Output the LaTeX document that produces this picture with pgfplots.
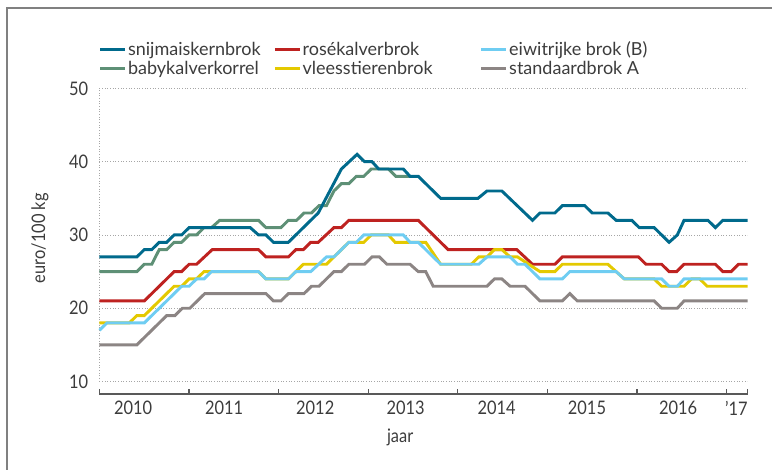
\documentclass[border=0pt]{standalone}
\usepackage{fontspec}
\setmainfont{Lato}[FakeStretch=0.88]
\newfontfamily\legfont{Lato}
\usepackage{pgfplots}
\pgfplotsset{compat=1.18}
\definecolor{cSnij}{HTML}{006A8C}
\definecolor{cRose}{HTML}{BE2220}
\definecolor{cEiwit}{HTML}{6FCDF2}
\definecolor{cBaby}{HTML}{5E9076}
\definecolor{cVlees}{HTML}{E4C900}
\definecolor{cStand}{HTML}{8C8584}
\definecolor{txt}{HTML}{3C3C3C}
\tikzset{
  snij/.style={color=cSnij, line width=2.2pt},
  rose/.style={color=cRose, line width=2.2pt},
  eiwit/.style={color=cEiwit, line width=2.2pt},
  baby/.style={color=cBaby, line width=2.2pt},
  vlees/.style={color=cVlees, line width=2.2pt},
  stand/.style={color=cStand, line width=2.2pt},
}
\begin{document}
\begin{tikzpicture}
\begin{axis}[
  at={(0,0)}, anchor=south west,
  scale only axis, width=486pt, height=229.2pt,
  xmin=0, xmax=86.8, ymin=8.3, ymax=50,
  axis x line*=bottom, axis y line*=left,
  x axis line style={draw=black!65, line width=0.9pt, -},
  y axis line style={draw=none},
  /pgf/number format/assume math mode=true,
  xtick={0,12,24,36,48,60,72,84,86.8}, xticklabels={},
  xtick style={draw=black!65, line width=0.9pt},
  tick align=inside, major tick length=4pt,
  extra x ticks={4.5,16.7,28.9,41.0,53.2,65.3,77.5,85.3},
  extra x tick labels={2010,2011,2012,2013,2014,2015,2016,'17},
  extra x tick style={major tick length=0pt, tick label style={yshift=-2pt}},
  ytick={10,20,30,40,50},
  ytick style={draw=none},
  yticklabel style={xshift=-5pt},
  ymajorgrids,
  grid style={draw=black!35, line width=0.6pt, dash pattern=on 0.6pt off 1.4pt},
  tick label style={font=\fontsize{14}{16}\selectfont, text=txt},
  xlabel={jaar}, ylabel={euro/100 kg},
  label style={font=\fontsize{14}{16}\selectfont, text=txt},
  xlabel style={at={(axis description cs:0.464,-0.141)}, anchor=center},
  ylabel style={at={(axis description cs:-0.0918,0.51)}, anchor=center, rotate=0},
  clip=false,
  legend columns=3,
  legend cell align=left,
  legend image code/.code={\draw[#1] (0pt,0pt) -- (18.75pt,0pt);},
  legend style={draw=none, fill=none, at={(axis description cs:-0.0077,1.168)}, anchor=north west,
    font=\legfont\fontsize{13.5}{15}\selectfont, text=txt, row sep=0pt,
    nodes={inner xsep=1pt, inner ysep=1.2pt}},
]
\draw[black!35, line width=0.6pt, dash pattern=on 0.6pt off 1.4pt] (axis cs:0,10) -- (axis cs:0,50);

\addlegendimage{snij}\addlegendentry{\makebox[108pt][l]{snijmaiskernbrok}}
\addlegendimage{rose}\addlegendentry{\makebox[132pt][l]{rosékalverbrok}}
\addlegendimage{eiwit}\addlegendentry{eiwitrijke brok (B)}
\addlegendimage{baby}\addlegendentry{\makebox[108pt][l]{babykalverkorrel}}
\addlegendimage{vlees}\addlegendentry{\makebox[132pt][l]{vleesstierenbrok}}
\addlegendimage{stand}\addlegendentry{standaardbrok A}

% babykalverkorrel
\addplot[baby, forget plot] coordinates {
(0,25) (5,25) (6,26) (7,26) (8,28) (9,28) (10,29) (11,29) (12,30) (13,30)
(14,31) (15,31) (16.1,32) (21.3,32) (22.3,31) (24.3,31) (25.3,32) (26.4,32)
(27.4,33) (28.4,33) (29.4,34) (30.4,34) (31.4,36) (32.4,37) (33.4,37)
(34.4,38) (35.4,38) (36.4,39) (38.7,39) (39.7,38) (41.6,38)};
% rosekalverbrok
\addplot[rose, forget plot] coordinates {
(0,21) (6,21) (10,25) (11,25) (12,26) (13,26) (15.1,28) (21.3,28) (22.3,27)
(25.3,27) (26.3,28) (27.3,28) (28.3,29) (29.3,29) (31.4,31) (32.4,31)
(33.4,32) (42.7,32) (46.7,28) (55.9,28) (58.0,26) (61,26) (62,27) (72.2,27)
(73.2,26) (75.3,26) (76.3,25) (77.3,25) (78.3,26) (82.5,26) (83.5,25)
(84.6,25) (85.6,26) (86.8,26)};
% standaardbrok A
\addplot[stand, forget plot] coordinates {
(0,15) (5,15) (9,19) (10.1,19) (11.1,20) (12.1,20) (14.1,22) (22.3,22)
(23.3,21) (24.3,21) (25.3,22) (27.4,22) (28.4,23) (29.4,23) (31.4,25)
(32.4,25) (33.4,26) (35.5,26) (36.5,27) (37.5,27) (38.5,26) (41.6,26)
(42.7,25) (43.7,25) (44.7,23) (51.9,23) (52.9,24) (53.9,24) (55,23) (57,23)
(59,21) (62,21) (63,22) (64,21) (74.3,21) (75.3,20) (77.4,20) (78.3,21)
(86.8,21)};
% vleesstierenbrok
\addplot[vlees, forget plot] coordinates {
(0,18) (4,18) (5,19) (6,19) (10,23) (11,23) (12,24) (13,24) (14,25)
(21.3,25) (22.3,24) (25.3,24) (26.3,25) (27.3,26) (30.4,26) (33.4,29)
(35.4,29) (36.4,30) (38.7,30) (39.6,29) (43.7,29) (45.7,26) (49.8,26)
(50.8,27) (51.9,27) (52.9,28) (53.9,28) (55,27) (56,27) (59,25) (61,25)
(62,26) (68.1,26) (70.3,24) (74.3,24) (75.3,23) (78.3,23) (79.3,24)
(80.4,24) (81.4,23) (86.8,23)};
% eiwitrijke brok (B)
\addplot[eiwit, forget plot] coordinates {
(0,17) (1,18) (6,18) (11,23) (12,23) (13,24) (14,24) (15,25) (21.3,25)
(22.3,24) (25.3,24) (26.3,25) (28.3,25) (30.4,27) (31.4,27) (33.4,29)
(34.4,29) (35.4,30) (40.7,30) (41.6,29) (42.7,29) (45.7,26) (50.8,26)
(51.9,27) (55,27) (56,26) (57,26) (59,24) (62,24) (63,25) (69.2,25)
(70.3,24) (75.3,24) (76.3,23) (77.4,23) (78.3,24) (86.8,24)};
% snijmaiskernbrok
\addplot[snij, forget plot] coordinates {
(0,27) (5,27) (6,28) (7,28) (8,29) (9,29) (10,30) (11,30) (12,31) (20.2,31)
(21.3,30) (22.3,30) (23.3,29) (25.3,29) (29.3,33) (32.4,39) (34.5,41)
(35.5,40) (36.5,40) (37.4,39) (40.7,39) (41.6,38) (42.7,38) (45.7,35)
(50.7,35) (51.9,36) (53.9,36) (58.0,32) (59,33) (61,33) (62,34) (65,34)
(66,33) (68.1,33) (69.2,32) (71.3,32) (72.3,31) (74.3,31) (76.3,29)
(77.4,30) (78.3,32) (81.5,32) (82.5,31) (83.5,32) (86.8,32)};
\end{axis}
\draw[black!50, line width=1pt] (-69.4pt,-60pt) -- (-69.4pt,289.5pt) -- (510pt,289.5pt);
\pgfresetboundingbox
\path[use as bounding box] (-74.625pt,-57pt) rectangle (504.375pt,295.5pt);
\end{tikzpicture}
\end{document}
